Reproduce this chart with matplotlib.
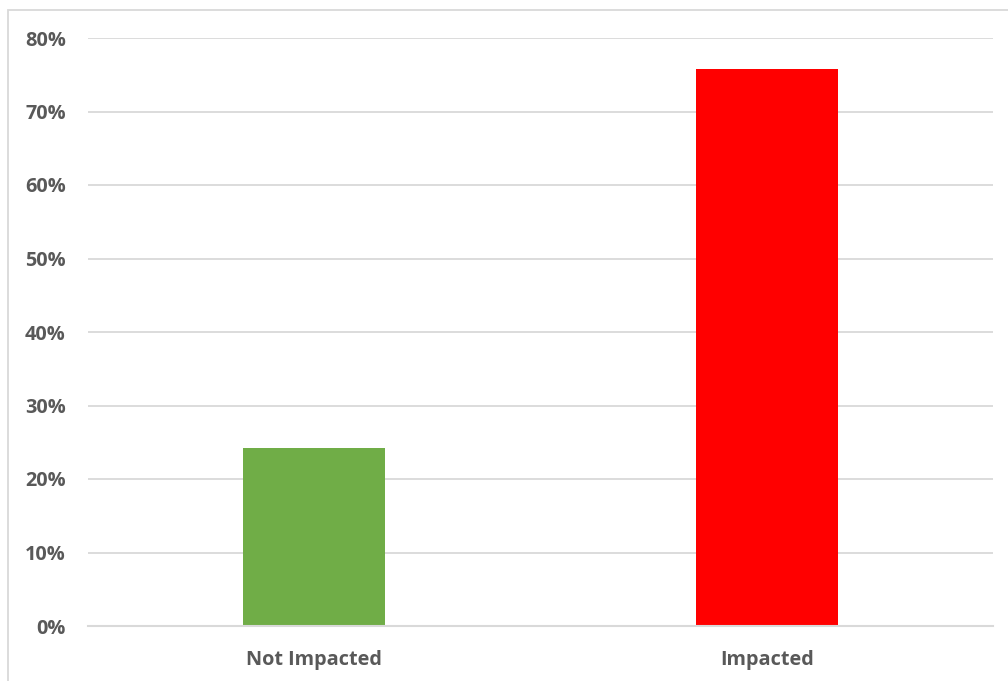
import matplotlib
matplotlib.use("Agg")
import matplotlib.pyplot as plt
from matplotlib.patches import Rectangle
from matplotlib.ticker import FuncFormatter

categories = ["Not Impacted", "Impacted"]
shares = [0.242, 0.758]
bar_colors = ["#70ad47", "#ff0000"]
y_ticks = [0, 0.1, 0.2, 0.3, 0.4, 0.5, 0.6, 0.7, 0.8]

plt.rcParams["font.family"] = ["Open Sans", "DejaVu Sans"]

fig = plt.figure(figsize=(10.08, 6.81), dpi=100)
ax = fig.add_axes([88 / 1008, 1 - 626 / 681, (993 - 88) / 1008, (626 - 38) / 681])

# outer chart frame
fig.patches.append(Rectangle((7.5 / 1008, -0.1), 1.2, 1 - 9.5 / 681 + 0.1,
                             transform=fig.transFigure, fill=False,
                             edgecolor="#d9d9d9", linewidth=1.3, zorder=0))

x = range(len(categories))
ax.bar(x, shares, width=0.314, color=bar_colors, zorder=3)

ax.set_xlim(-0.5, 1.5)
ax.set_ylim(0, 0.8)
ax.set_yticks(y_ticks)
ax.yaxis.set_major_formatter(FuncFormatter(lambda v, _: f"{v * 100:.0f}%"))
ax.set_xticks(list(x))
ax.set_xticklabels(categories)

ax.grid(axis="y", color="#d9d9d9", linewidth=1.3, zorder=0)
for side in ["top", "right", "left"]:
    ax.spines[side].set_visible(False)
ax.spines["bottom"].set_color("#d9d9d9")
ax.spines["bottom"].set_linewidth(1.5)
ax.spines["bottom"].set_zorder(4)

ax.tick_params(axis="both", length=0, labelsize=14.3, labelcolor="#595959")
ax.tick_params(axis="y", pad=16)
ax.tick_params(axis="x", pad=17)
for lbl in ax.get_xticklabels() + ax.get_yticklabels():
    lbl.set_fontweight("bold")

fig.savefig("out.png", dpi=100)
